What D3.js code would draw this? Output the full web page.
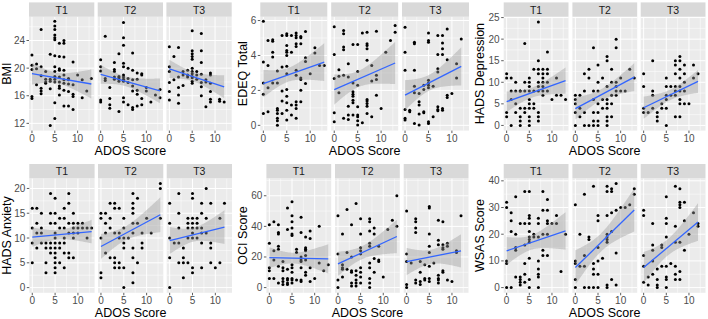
<!DOCTYPE html>
<html><head><meta charset="utf-8">
<script src="https://cdn.jsdelivr.net/npm/d3@7"></script>
<style>body{margin:0;background:#fff}svg{display:block}</style>
</head><body>
<svg id="c" width="708" height="319"></svg>
<script>
// ---------- DATA (index of each inner array = ADOS score) ----------
const facetNames = ["T1","T2","T3"];
const xTicks = [0,5,10];
const xMinor = [2.5,7.5,12.5];
const xDomain = [-0.65, 13.65];
const xTitle = "ADOS Score";

const bmiT1 = [[21.9,20.4,19.8,15.9,15.6],[20.6,19.9,17.6],[25.6,20.2,18.9,17.1,16.7,16.3],[19.5,18.4,18.0,17.8],[22.0,18.4,18.1,17.0,11.7],[26.8,26.1,25.6,24.8,24.4,24.1,21.8,20.2,19.5,18.8,18.4,18.0,15.0,12.7],[23.6,21.7,19.9,19.7,18.7,18.0,17.4,17.1,16.1],[24.0,23.6,21.6,19.7,19.0,18.3,17.8,16.8,14.5],[18.5,18.3,17.7,16.6,14.5],[20.9,17.6,16.2,15.9,14.0],[19.0],[18.3,15.7],[16.7],[18.5]];
const bmiT2 = [[21.2,20.2,19.6,15.4,15.1],[24.6,18.5,18.2],[17.2,15.6,14.7,14.2],[20.8,19.8,19.5,18.7,18.4],[22.1,18.8,18.6,18.4,18.1,13.7],[26.6,24.4,23.3,20.7,20.2,19.0,18.7,18.4,18.1,15.7,15.1],[20.0,18.5,17.9,14.7],[22.2,19.7,18.3,17.4,16.7,14.3,14.0],[19.3,18.4,16.8,16.2,14.5],[19.2,19.0,15.6,14.7],[17.2,16.7],[15.1],[16.1],[16.9,15.7]];
const bmiT3 = [[23.1,20.2,19.5,17.9,16.6,15.4],[21.7,18.3],[23.0,18.7,17.2,16.1,14.9],[19.5,19.0,17.5],[19.7,19.0,18.7],[25.4,22.5,22.1,21.7,21.3,20.0,19.5,19.2,18.8,18.6,18.1,17.8],[19.5,19.0,18.4],[25.0,22.5,20.8,19.1,17.9,17.3,16.0],[18.3,18.0,14.4],[19.3,19.0,17.8,16.6,15.5,15.1],[],[15.5,15.2],[15.1]];
const bmiFit = [[19.2,17.7],[19.1,16.7],[19.9,17.3]];
const bmiTicks = [12,16,20,24];
const bmiMinor = [14,18,22,26];
const bmiDomain = [10.95,27.45];

const edeqT1 = [[5.96,3.62,2.43,1.78,0.68],[4.86,3.43,2.16,0.78],[4.90,4.82,4.19,3.91,2.43],[3.11,2.43,0.97,0.87,0.68,0.40,0.27,0.0],[5.14,3.34,1.97,1.40,0.68],[5.24,5.14,4.57,4.29,4.19,4.0,3.38,2.96,2.05,1.67,1.29,0.87,0.30],[5.14,4.19,1.16,0.59],[5.29,5.14,5.01,4.67,4.52,3.15,2.87,1.35,1.16,0.97,0.40],[5.09,5.01,4.67,2.71,2.62,2.01,1.35],[5.37,3.87,3.66,2.39],[2.96],[4.44,4.14],[3.43],[3.43]];
const edeqT2 = [[5.65,4.06,2.68,0.72,0.21],[3.19,2.81,1.86],[5.43,5.24,4.48,4.33,2.87,0.40],[3.53,2.77,1.10,0.59,0.34],[4.63,2.43,1.92,1.78,1.67,1.44,1.29,0.59],[4.63,3.09,2.30,1.06,0.59,0.49,0.27,0.02],[5.28,0.15],[5.33,4.67,4.57,4.38,3.72,1.48,1.39,1.25,1.10,0.68],[3.43,2.54,0.49],[5.39,2.87,2.62,1.73],[0.97],[4.19],[4.86],[5.71,5.33]];
const edeqT3 = [[5.62,4.19,3.15,0.91,0.40,0.30],[0.87,0.78],[4.76,4.67,3.15,2.24,1.86,0.11],[1.82,1.35,1.16,0.65,0.02],[2.30,2.05,0.78,0.72],[5.28,4.86,4.76,2.58,2.43,2.30,2.16,0.21,0.11],[2.24,0.49],[5.14,4.06,3.24,3.05,1.06,0.91,0.83],[5.14,4.71,4.38,4.06,0.97,0.87],[5.52,3.76,1.73,1.59],[1.82],[3.53,2.71],[4.95]];
const edeqFit = [[2.39,3.62],[2.05,3.57],[1.73,3.38]];
const edeqTicks = [0,2,4,6];
const edeqMinor = [1,3,5];
const edeqDomain = [-0.3,6.22];

const depT1 = [[12,11,3,2],[11,8,6,0],[10,8,5,3],[8,8,4,2,1,0],[19,10,8,4,3],[11,10,9,8,6,5,4,2,1,0],[13,8,5,4],[24,15,13,12,10,9,8,3,2,1],[13,12,11,10,9,8,7],[17,13,12,10,8],[6],[11,7],[7],[6]];
const depT2 = [[7,6,5,3,0],[7,4,2],[12,8,3,0],[13,11,0],[18,8,6,3,1,0],[14,10,8,5,3,1,0],[11,6,4],[16,15,9,6,5,4,2,1,0],[13,10,7,5,2],[20,18,10,9,8,7],[11,8],[8],[13],[11]];
const depT3 = [[12,9,4,3],[3],[15,8,7,4],[3,2,1],[5,4],[11,9,7,6,4,0],[9,7],[15,14,12,9,8,7,2],[16,15,13,11,9,8,6,5,2],[14,12,10,8,5],[5],[14,11],[12]];
const depFit = [[5.5,10.4],[3.9,11.2],[4.1,10.2]];
const depTicks = [0,5,10,15,20,25];
const depMinor = [2.5,7.5,12.5,17.5,22.5];
const depDomain = [-1.2,25.2];

const anxT1 = [[16,12,9,5],[16,13,11,8],[15,12,11,9],[9,8,5,3],[19,15,13,9,8,7],[18,15,13,11,10,9,8,7,6,5,4,3],[14,12,9,8,5],[16,14,12,10,9,7,4],[19,17,13,11,7,6],[15,13,12,11,10,6],[13,12,11],[13,12],[12,10],[12]];
const anxT2 = [[15,14,10,3,2],[15,13,11,7],[17,14,12,6],[17,16,11,6,5,4],[16,11,10,5,4],[14,12,10,9,8,4,0],[10],[19,17,16,15,13,11,8,6,3,1],[18,13,5],[11,9,8],[14],[11],[],[21,20,14]];
const anxT3 = [[17,13,10,6,0],[9],[19,15,12,9,5],[8,6,5,2],[14,13,12,10,5],[19,18,14,13,12,11,10,4,3],[14,13,12,10],[17,15,12,11,9,4],[20,14,11],[17,9,8,5],[4],[14,5],[17]];
const anxFit = [[10.2,11.3],[8.3,14.7],[9.5,12.2]];
const anxTicks = [0,5,10,15,20];
const anxMinor = [2.5,7.5,12.5,17.5];
const anxDomain = [-1.05,22.05];

const ociT1 = [[41,29,13,11,6],[43,24,18,6],[41,36,35,27,25,14,3],[17,13,11,6,4,2],[52,38,12,6,5,3,2],[56,47,43,39,35,34,15,13,10,6,5,3],[25,23,5],[46,36,20,18,17,13,5,4],[33,26,25,24,21,18,10,8],[37,32,13,4],[6],[40,16],[11],[15]];
const ociT2 = [[47,22,5,0],[35,15,13,12,7],[51,23,12],[41,20,11,10,3,1],[55,11,8,5,3,1],[45,35,26,24,22,13,10,7,3],[],[45,43,37,29,27,16,13,6,3,0],[39,35,19,10],[27,18,17],[7],[38],[44],[60,40]];
const ociT3 = [[50,22,17,2,0],[16],[45,43,39,36,5,3],[17,10,4,2],[15,6,5],[53,52,35,27,23,14,6,4],[16],[44,31,28,8,6,5,3],[43,28,26,25,11,10],[29,27,5],[4],[24,23],[47]];
const ociFit = [[19.6,18.8],[15.5,33.4],[17.0,24.0]];
const ociTicks = [0,20,40,60];
const ociMinor = [10,30,50,70];
const ociDomain = [-3.4,71.4];

const wsasT1 = [[32,30,10,9,0],[28,25,21,0],[34,20,15,14,4],[24,4,3,2,1],[36,24,16,9,5,2],[36,27,26,24,21,19,18,17,11,3,0],[20,19],[26,24,19,10,7,5,4,0],[36,29,20,14,12],[33,29,25,24,20,12],[24],[27,24],[6],[20]];
const wsasT2 = [[31,10,9,3,0],[20,8],[35,12,8,0],[19,18,0],[38,9,7,5,0],[27,25,15,10,5,0],[11],[38,36,27,20,19,18,17,1,0],[37,36,28,21,3],[39,29,13,1],[30],[30],[31],[37,35]];
const wsasT3 = [[29,27,12,8,2],[4,1],[24,16,14,10,5],[7,3,1,0],[16,15,8],[34,26,24,19,8,4,3,0],[9],[38,23,17,8,5,3],[37,32,31,30,17,6,3],[32,25,14],[20],[28],[23,24]];
const wsasFit = [[13.75,21.25],[7.5,29.1],[7.5,24.6]];
const wsasTicks = [0,10,20,30,40];
const wsasMinor = [5,15,25,35];
const wsasDomain = [-1.95,40.95];

// ---------- LAYOUT ----------
const rows = [
  {stripTop:2.4, top:16.7, bottom:130.6},
  {stripTop:164.0, top:178.3, bottom:292.8}
];
const panels = [
  {title:"BMI", data:[bmiT1,bmiT2,bmiT3], fit:bmiFit, ticks:bmiTicks, minor:bmiMinor, domain:bmiDomain, row:0, lefts:[29.0,97.7,166.4], w:65.3, tx:6.5},
  {title:"EDEQ Total", data:[edeqT1,edeqT2,edeqT3], fit:edeqFit, ticks:edeqTicks, minor:edeqMinor, domain:edeqDomain, row:0, lefts:[260.3,331.2,402.0], w:67.0, tx:243},
  {title:"HADS Depression", data:[depT1,depT2,depT3], fit:depFit, ticks:depTicks, minor:depMinor, domain:depDomain, row:0, lefts:[503.7,572.4,640.7], w:64.8, tx:479.5},
  {title:"HADS Anxiety", data:[anxT1,anxT2,anxT3], fit:anxFit, ticks:anxTicks, minor:anxMinor, domain:anxDomain, row:1, lefts:[29.3,98.0,166.7], w:65.3, tx:6.5},
  {title:"OCI Score", data:[ociT1,ociT2,ociT3], fit:ociFit, ticks:ociTicks, minor:ociMinor, domain:ociDomain, row:1, lefts:[266.4,335.0,403.7], w:64.8, tx:243},
  {title:"WSAS Score", data:[wsasT1,wsasT2,wsasT3], fit:wsasFit, ticks:wsasTicks, minor:wsasMinor, domain:wsasDomain, row:1, lefts:[503.7,572.4,640.7], w:64.8, tx:480}
];

const FONT = "'Liberation Sans', Arial, Helvetica, sans-serif";
const svg = d3.select("#c");
svg.append("rect").attr("width",708).attr("height",319).attr("fill","#fff");

function tq(df){ return 1.96 + 2.4/df; }

panels.forEach((p, pi) => {
  const r = rows[p.row];
  const y = d3.scaleLinear().domain(p.domain).range([r.bottom, r.top]);
  const g = svg.append("g");

  p.lefts.forEach((left, fi) => {
    const x = d3.scaleLinear().domain(xDomain).range([left, left + p.w]);
    const fg = g.append("g");
    const clipId = "clip" + pi + "_" + fi;
    fg.append("clipPath").attr("id", clipId).append("rect")
      .attr("x", left).attr("y", r.top).attr("width", p.w).attr("height", r.bottom - r.top);
    fg.append("rect").attr("x", left).attr("y", r.top).attr("width", p.w)
      .attr("height", r.bottom - r.top).attr("fill", "#EBEBEB");
    fg.selectAll(".hmin").data(p.minor.filter(v => v > p.domain[0] && v < p.domain[1])).join("line")
      .attr("x1", left).attr("x2", left + p.w).attr("y1", d => y(d)).attr("y2", d => y(d))
      .attr("stroke", "#fff").attr("stroke-width", 0.5);
    fg.selectAll(".vmin").data(xMinor).join("line")
      .attr("y1", r.top).attr("y2", r.bottom).attr("x1", d => x(d)).attr("x2", d => x(d))
      .attr("stroke", "#fff").attr("stroke-width", 0.5);
    fg.selectAll(".hmaj").data(p.ticks).join("line")
      .attr("x1", left).attr("x2", left + p.w).attr("y1", d => y(d)).attr("y2", d => y(d))
      .attr("stroke", "#fff").attr("stroke-width", 1);
    fg.selectAll(".vmaj").data(xTicks).join("line")
      .attr("y1", r.top).attr("y2", r.bottom).attr("x1", d => x(d)).attr("x2", d => x(d))
      .attr("stroke", "#fff").attr("stroke-width", 1);

    fg.append("rect").attr("x", left).attr("y", r.stripTop).attr("width", p.w)
      .attr("height", r.top - r.stripTop).attr("fill", "#D9D9D9");
    fg.append("text").attr("x", left + p.w / 2).attr("y", (r.stripTop + r.top) / 2 + 0.3)
      .attr("text-anchor", "middle").attr("dominant-baseline", "central")
      .attr("font-family", FONT).attr("font-size", 10.5).attr("fill", "#1A1A1A")
      .text(facetNames[fi]);

    const pts = [];
    p.data[fi].forEach((vals, ados) => vals.forEach(v => pts.push([ados, v])));
    const inner = fg.append("g").attr("clip-path", "url(#" + clipId + ")");
    inner.selectAll("circle").data(pts).join("circle")
      .attr("cx", d => x(d[0])).attr("cy", d => y(d[1])).attr("r", 1.5).attr("fill", "#000");

    const xs = pts.map(d => d[0]);
    const xmin = d3.min(xs), xmax = d3.max(xs);
    const [y0, y1] = p.fit[fi];
    const b = (y1 - y0) / (xmax - xmin), a = y0 - b * xmin;
    const n = pts.length, xbar = d3.mean(xs);
    const Sxx = d3.sum(xs, v => (v - xbar) ** 2);
    const s = Math.sqrt(d3.sum(pts, d => (d[1] - (a + b * d[0])) ** 2) / (n - 2));
    const t = tq(n - 2);
    const grid = d3.range(81).map(i => xmin + (xmax - xmin) * i / 80);
    const bandData = grid.map(xv => {
      const se = s * Math.sqrt(1 / n + (xv - xbar) ** 2 / Sxx);
      const fv = a + b * xv;
      return {x: xv, lo: fv - t * se, hi: fv + t * se};
    });
    inner.append("path").datum(bandData)
      .attr("d", d3.area().x(d => x(d.x)).y0(d => y(d.lo)).y1(d => y(d.hi)))
      .attr("fill", "#999999").attr("fill-opacity", 0.4);
    inner.append("line")
      .attr("x1", x(xmin)).attr("y1", y(a + b * xmin))
      .attr("x2", x(xmax)).attr("y2", y(a + b * xmax))
      .attr("stroke", "#3366FF").attr("stroke-width", 1.3);

    fg.selectAll(".xt").data(xTicks).join("line")
      .attr("x1", d => x(d)).attr("x2", d => x(d)).attr("y1", r.bottom).attr("y2", r.bottom + 2.5)
      .attr("stroke", "#333").attr("stroke-width", 0.8);
    fg.selectAll(".xl").data(xTicks).join("text")
      .attr("x", d => x(d)).attr("y", r.bottom + 7.6)
      .attr("text-anchor", "middle").attr("dominant-baseline", "central")
      .attr("font-family", FONT).attr("font-size", 10).attr("fill", "#4D4D4D")
      .text(d => d);
  });

  const left0 = p.lefts[0];
  g.selectAll(".yt").data(p.ticks).join("line")
    .attr("x1", left0 - 2.5).attr("x2", left0).attr("y1", d => y(d)).attr("y2", d => y(d))
    .attr("stroke", "#333").attr("stroke-width", 0.8);
  g.selectAll(".yl").data(p.ticks).join("text")
    .attr("x", left0 - 4).attr("y", d => y(d))
    .attr("text-anchor", "end").attr("dominant-baseline", "central")
    .attr("font-family", FONT).attr("font-size", 10).attr("fill", "#4D4D4D")
    .text(d => d);

  const ymid = (r.top + r.bottom) / 2;
  g.append("text").attr("transform", `translate(${p.tx},${ymid}) rotate(-90)`)
    .attr("text-anchor", "middle").attr("dominant-baseline", "central")
    .attr("font-family", FONT).attr("font-size", 12.5).attr("fill", "#000")
    .text(p.title);

  const xmid = (p.lefts[0] + p.lefts[2] + p.w) / 2;
  g.append("text").attr("x", xmid).attr("y", r.bottom + 20.5)
    .attr("text-anchor", "middle").attr("dominant-baseline", "central")
    .attr("font-family", FONT).attr("font-size", 12.5).attr("fill", "#000")
    .text(xTitle);
});
</script>
</body></html>
